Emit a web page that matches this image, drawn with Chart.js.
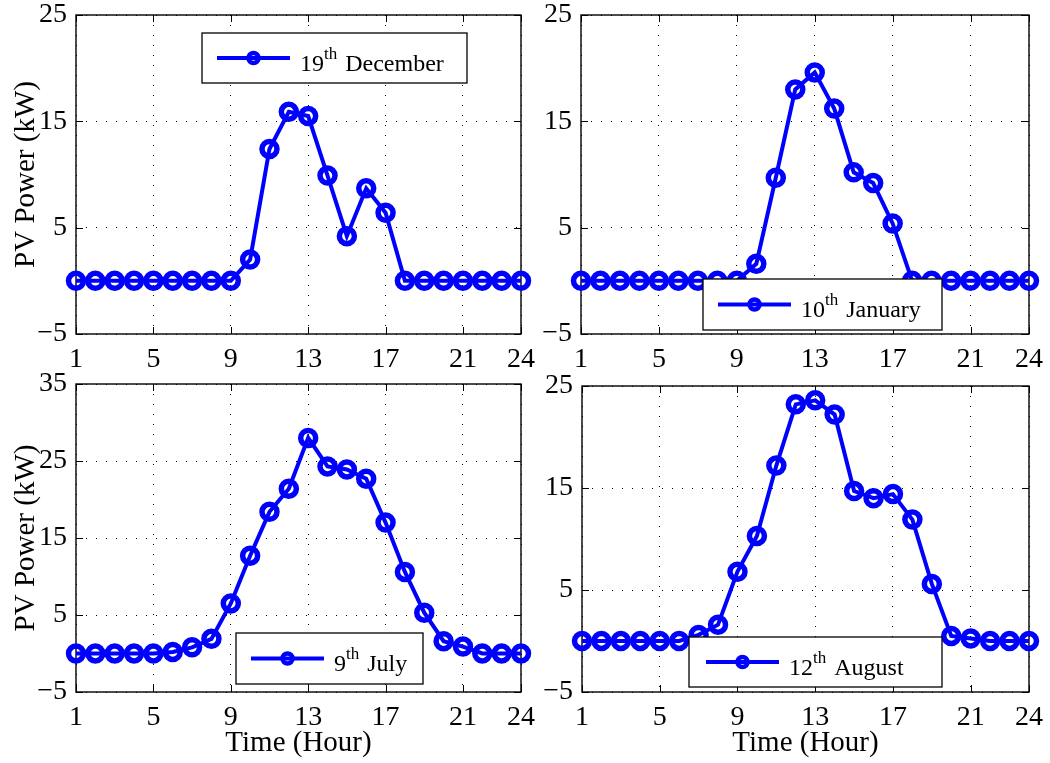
<!DOCTYPE html>
<html><head><meta charset="utf-8">
<script src="https://cdn.jsdelivr.net/npm/chart.js@4/dist/chart.umd.min.js"></script>
<style>
html,body{margin:0;padding:0;background:#fff;}
#wrap{position:relative;width:1050px;height:763px;overflow:hidden;background:#fff;}
#wrap div{position:absolute;}
canvas{display:block;}
</style></head><body>
<div id="wrap">
  <div id="d1" style="left:0;top:0;width:560px;height:380px"><canvas id="c1"></canvas></div>
  <div id="d2" style="left:525px;top:0;width:525px;height:380px"><canvas id="c2"></canvas></div>
  <div id="d3" style="left:0;top:360px;width:560px;height:403px"><canvas id="c3"></canvas></div>
  <div id="d4" style="left:525px;top:360px;width:525px;height:403px"><canvas id="c4"></canvas></div>
</div>
<script>
// ---------- data ----------
const hours = [1,2,3,4,5,6,7,8,9,10,11,12,13,14,15,16,17,18,19,20,21,22,23,24];
const xTicks = [1,5,9,13,17,21,24];
const yTicksA = [-5,5,15,25];
const yTicksB = [-5,5,15,25,35];
const dec19 = [0,0,0,0,0,0,0,0,0,2.0,12.4,15.9,15.5,9.9,4.2,8.7,6.4,0,0,0,0,0,0,0];
const jan10 = [0,0,0,0,0,0,0,0,0,1.6,9.7,18.0,19.6,16.2,10.2,9.2,5.4,0,0,0,0,0,0,0];
const jul9  = [0,0,0,0,0,0.2,0.8,1.9,6.5,12.7,18.4,21.4,28.0,24.3,23.9,22.7,17.0,10.6,5.3,1.6,0.9,0,0,0];
const aug12 = [0,0,0,0,0,0,0.6,1.6,6.8,10.3,17.2,23.2,23.6,22.2,14.7,14.0,14.4,11.9,5.6,0.5,0.25,0,0,0];
const legendDays = ['19','10','9','12'];
const legendSup = 'th';
const legendMonths = ['December','January','July','August'];
const yTitle = 'PV Power (kW)';
const xTitle = 'Time (Hour)';

const FONT = 'Liberation Serif';
const BLUE = '#0000ff';

// frame + inward ticks
const framePlugin = {
  id: 'frame',
  beforeDatasetsDraw(chart) {
    const {ctx, chartArea: a, scales} = chart;
    ctx.save();
    ctx.strokeStyle = '#000';
    ctx.lineWidth = 1;
    const L = 7;
    ctx.beginPath();
    scales.x.ticks.forEach(t => {
      const px = Math.round(scales.x.getPixelForValue(t.value)) + 0.5;
      ctx.moveTo(px, a.bottom); ctx.lineTo(px, a.bottom - L);
      ctx.moveTo(px, a.top); ctx.lineTo(px, a.top + L);
    });
    scales.y.ticks.forEach(t => {
      const py = Math.round(scales.y.getPixelForValue(t.value)) + 0.5;
      ctx.moveTo(a.left, py); ctx.lineTo(a.left + L, py);
      ctx.moveTo(a.right, py); ctx.lineTo(a.right - L, py);
    });
    ctx.stroke();
    ctx.lineWidth = 1.4;
    ctx.strokeRect(a.left, a.top, a.right - a.left, a.bottom - a.top);
    ctx.restore();
  }
};

// legend with superscript
const legendPlugin = {
  id: 'suplegend',
  afterDatasetsDraw(chart, args, opts) {
    const {ctx} = chart;
    const [bx, by, bw, bh] = opts.box;
    const cx0 = bx + opts.inset;
    const cy = by + bh / 2;
    ctx.save();
    ctx.fillStyle = '#fff';
    ctx.fillRect(bx, by, bw, bh);
    ctx.strokeStyle = '#000';
    ctx.lineWidth = 1.3;
    ctx.strokeRect(bx, by, bw, bh);
    ctx.strokeStyle = BLUE;
    ctx.lineWidth = 4;
    ctx.beginPath();
    ctx.moveTo(cx0, cy); ctx.lineTo(cx0 + 73, cy);
    ctx.stroke();
    ctx.lineWidth = 4.5;
    ctx.beginPath();
    ctx.arc(cx0 + 36.5, cy, 5, 0, Math.PI * 2);
    ctx.stroke();
    let tx = cx0 + 83;
    ctx.fillStyle = '#000';
    ctx.textBaseline = 'alphabetic';
    ctx.textAlign = 'left';
    ctx.font = '24px "' + FONT + '"';
    ctx.fillText(opts.day, tx, cy + 12.5);
    tx += ctx.measureText(opts.day).width;
    ctx.font = '17px "' + FONT + '"';
    ctx.fillText(legendSup, tx, cy + 0.5);
    tx += ctx.measureText(legendSup).width + 8;
    ctx.font = '24px "' + FONT + '"';
    ctx.fillText(opts.month, tx, cy + 12.5);
    ctx.restore();
  }
};

function fmtY(v) { return v < 0 ? '\u2212' + Math.abs(v) : String(v); }

function makeChart(id, values, yMax, yTicks, p) {
  const ctx = document.getElementById(id);
  return new Chart(ctx, {
    type: 'line',
    data: {
      labels: hours,
      datasets: [{
        data: hours.map((h, i) => ({x: h, y: values[i]})),
        borderColor: BLUE,
        borderWidth: 4,
        pointRadius: 7.5,
        pointBorderWidth: 5.5,
        pointBackgroundColor: 'rgba(0,0,0,0)',
        pointBorderColor: BLUE,
        tension: 0,
        clip: false
      }]
    },
    options: {
      responsive: true,
      maintainAspectRatio: false,
      animation: false,
      events: [],
      layout: {padding: {left: 0, top: p.top, right: p.right, bottom: 0}},
      plugins: {
        legend: {display: false},
        tooltip: {enabled: false},
        suplegend: {box: p.box, inset: p.inset, day: p.day, month: p.month}
      },
      scales: {
        x: {
          type: 'linear',
          min: 1, max: 24,
          afterBuildTicks: s => { s.ticks = xTicks.map(v => ({value: v})); },
          afterFit: s => { s.height = p.xh; s.paddingLeft = 0; s.paddingRight = 0; },
          ticks: {color: '#000', padding: 12, font: {family: FONT, size: 28, lineHeight: 1}, maxRotation: 0, autoSkip: false},
          grid: {color: '#000', lineWidth: 1, drawTicks: false},
          border: {display: false, dash: [1, 9]},
          title: {display: p.xTitle, text: xTitle, color: '#000', font: {family: FONT, size: 29, lineHeight: 1}, padding: {top: 0, bottom: 5}}
        },
        y: {
          type: 'linear',
          min: -5, max: yMax,
          afterBuildTicks: s => { s.ticks = yTicks.map(v => ({value: v})); },
          afterFit: s => { s.width = p.yw; s.paddingTop = 0; s.paddingBottom = 0; },
          ticks: {color: '#000', padding: 9, callback: fmtY, font: {family: FONT, size: 28, lineHeight: 1}},
          grid: {color: '#000', lineWidth: 1, drawTicks: false},
          border: {display: false, dash: [1, 9]},
          title: {display: p.yTitle, text: yTitle, color: '#000', font: {family: FONT, size: 29, lineHeight: 1}, padding: {top: 12, bottom: 0}}
        }
      }
    },
    plugins: [framePlugin, legendPlugin]
  });
}

makeChart('c1', dec19, 25, yTicksA, {top: 15, right: 39, xh: 46, yw: 76, xTitle: false, yTitle: true,
  box: [202, 33, 265, 50], inset: 15, day: legendDays[0], month: legendMonths[0]});
makeChart('c2', jan10, 25, yTicksA, {top: 15, right: 21, xh: 46, yw: 56, xTitle: false, yTitle: false,
  box: [178, 279, 239, 51], inset: 15, day: legendDays[1], month: legendMonths[1]});
makeChart('c3', jul9, 35, yTicksB, {top: 24, right: 39, xh: 71, yw: 76, xTitle: true, yTitle: true,
  box: [236, 273, 187, 51], inset: 15, day: legendDays[2], month: legendMonths[2]});
makeChart('c4', aug12, 25, yTicksA, {top: 26, right: 21, xh: 71, yw: 57, xTitle: true, yTitle: false,
  box: [164, 277, 253, 50], inset: 17, day: legendDays[3], month: legendMonths[3]});
</script>
</body></html>
